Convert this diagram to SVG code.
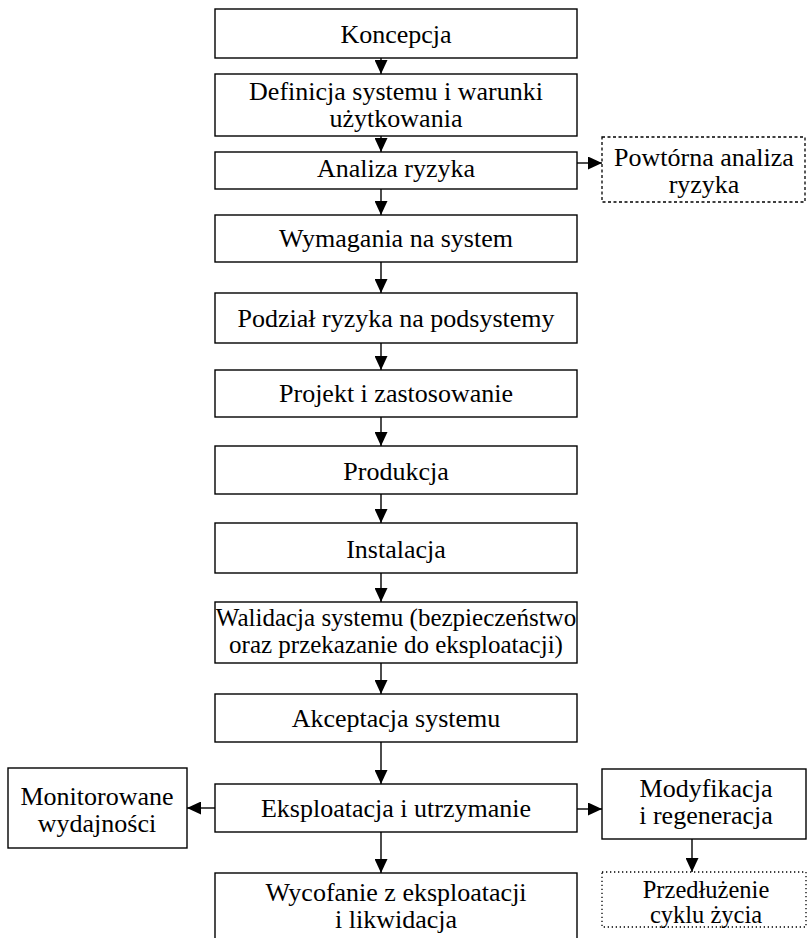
<svg xmlns="http://www.w3.org/2000/svg" width="807" height="938" viewBox="0 0 807 938">
<style>
.box{fill:#fff;stroke:#000;stroke-width:1.4}
.dash{fill:#fff;stroke:#000;stroke-width:1.3;stroke-dasharray:3 2.5}
.dot{fill:#fff;stroke:#000;stroke-width:1.3;stroke-dasharray:1.3 2.7}
text{font-family:"Liberation Serif","Times New Roman",serif;font-size:26px;fill:#000;text-anchor:middle}
.sm{font-size:25px}
.xs{font-size:24.5px}
.c line{stroke:#000;stroke-width:1.4;marker-end:url(#ah)}
</style>
<defs>
<marker id="ah" viewBox="0 0 14 13" refX="14" refY="6.5" markerWidth="14" markerHeight="13" markerUnits="userSpaceOnUse" orient="auto">
<path d="M0,0 L14,6.5 L0,13 z" fill="#000"/>
</marker>
</defs>
<rect width="807" height="938" fill="#fff"/>
<g id="n1"><rect class="box" x="215" y="9" width="362" height="49"/><text x="396" y="43">Koncepcja</text></g>
<g id="n2"><rect class="box" x="215" y="74" width="362" height="62"/><text x="396" y="100">Definicja systemu i warunki</text><text x="396" y="127">użytkowania</text></g>
<g id="n3"><rect class="box" x="215" y="152" width="362" height="37"/><text x="396" y="177">Analiza ryzyka</text></g>
<g id="n3b"><rect class="dash" x="602" y="137" width="203" height="65"/><text x="704" y="166">Powtórna analiza</text><text x="704" y="193">ryzyka</text></g>
<g id="n4"><rect class="box" x="215" y="215" width="362" height="47"/><text x="396" y="247">Wymagania na system</text></g>
<g id="n5"><rect class="box" x="215" y="293" width="362" height="50"/><text x="396" y="327">Podział ryzyka na podsystemy</text></g>
<g id="n6"><rect class="box" x="215" y="370" width="362" height="47"/><text x="396" y="402">Projekt i zastosowanie</text></g>
<g id="n7"><rect class="box" x="215" y="446" width="362" height="48"/><text x="396" y="480">Produkcja</text></g>
<g id="n8"><rect class="box" x="215" y="523" width="362" height="50"/><text x="396" y="558">Instalacja</text></g>
<g id="n9"><rect class="box" x="215" y="602" width="362" height="61"/><text class="sm" x="396" y="626">Walidacja systemu (bezpieczeństwo</text><text class="sm" x="396" y="653">oraz przekazanie do eksploatacji)</text></g>
<g id="n10"><rect class="box" x="215" y="694" width="362" height="48"/><text x="396" y="727">Akceptacja systemu</text></g>
<g id="n11"><rect class="box" x="215" y="784" width="362" height="48"/><text x="396" y="817">Eksploatacja i utrzymanie</text></g>
<g id="n12"><rect class="box" x="8" y="768" width="179" height="80"/><text x="97" y="805">Monitorowane</text><text x="97" y="832">wydajności</text></g>
<g id="n13"><rect class="box" x="602" y="769" width="204" height="70"/><text x="706" y="797">Modyfikacja</text><text x="706" y="824">i regeneracja</text></g>
<g id="n14"><rect class="dot" x="602" y="872" width="204" height="55"/><text class="xs" x="706" y="898">Przedłużenie</text><text class="xs" x="706" y="923">cyklu życia</text></g>
<g id="n15"><rect class="box" x="215" y="873" width="362" height="75"/><text x="396" y="901">Wycofanie z eksploatacji</text><text x="396" y="928">i likwidacja</text></g>
<g id="connectors" class="c">
<line x1="381" y1="58" x2="381" y2="74"/>
<line x1="381" y1="136" x2="381" y2="152"/>
<line x1="381" y1="189" x2="381" y2="215"/>
<line x1="381" y1="262" x2="381" y2="293"/>
<line x1="381" y1="343" x2="381" y2="370"/>
<line x1="381" y1="417" x2="381" y2="446"/>
<line x1="381" y1="494" x2="381" y2="523"/>
<line x1="381" y1="573" x2="381" y2="602"/>
<line x1="381" y1="663" x2="381" y2="694"/>
<line x1="381" y1="742" x2="381" y2="784"/>
<line x1="381" y1="832" x2="381" y2="873"/>
<line x1="577" y1="163" x2="602" y2="163"/>
<line x1="215" y1="808" x2="187" y2="808"/>
<line x1="577" y1="809" x2="602" y2="809"/>
<line x1="692" y1="839" x2="692" y2="872"/>
</g>
</svg>
